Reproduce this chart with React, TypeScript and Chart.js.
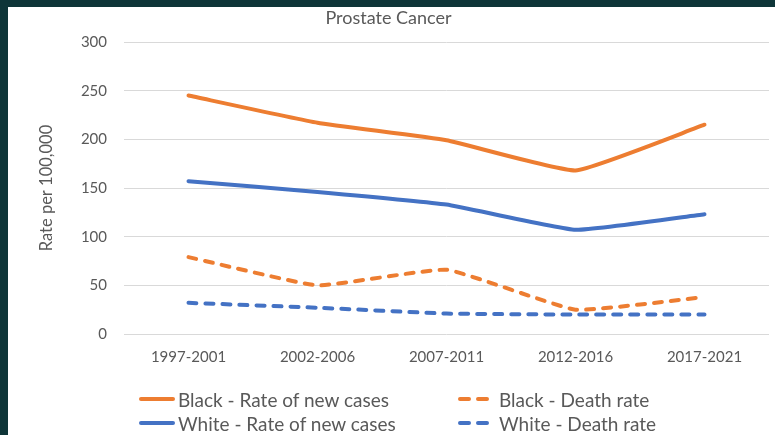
import React, { useEffect, useRef } from "react";
import { Chart, registerables } from "chart.js";

Chart.register(...registerables);

const categories = ["1997-2001", "2002-2006", "2007-2011", "2012-2016", "2017-2021"];
const blackNew = [245, 217, 199, 168, 215];
const blackDeath = [79, 50, 66, 25, 38];
const whiteNew = [157, 146, 133, 107, 123];
const whiteDeath = [32, 27, 21, 20, 20];
const seriesNames = [
  "Black - Rate of new cases",
  "Black - Death rate",
  "White - Rate of new cases",
  "White - Death rate",
];
const yMin = 0;
const yMax = 300;
const yStep = 50;

const ORANGE = "#ED7D31";
const BLUE = "#4472C4";
const TEXT = "#595959";
const FONT = "Lato";

export default function App() {
  const ref = useRef<HTMLCanvasElement | null>(null);

  useEffect(() => {
    if (!ref.current) return;
    const dash = [8, 9];
    const chart = new Chart(ref.current, {
      type: "line",
      data: {
        labels: categories,
        datasets: [
          { label: seriesNames[0], data: blackNew, borderColor: ORANGE, backgroundColor: ORANGE },
          { label: seriesNames[1], data: blackDeath, borderColor: ORANGE, backgroundColor: ORANGE, borderDash: dash },
          { label: seriesNames[2], data: whiteNew, borderColor: BLUE, backgroundColor: BLUE },
          { label: seriesNames[3], data: whiteDeath, borderColor: BLUE, backgroundColor: BLUE, borderDash: dash },
        ].map((d) => ({
          ...d,
          borderWidth: 4,
          pointRadius: 0,
          pointHoverRadius: 0,
          tension: 0.12,
          borderCapStyle: "round" as const,
          borderJoinStyle: "round" as const,
        })),
      },
      options: {
        responsive: false,
        animation: false,
        layout: { padding: { left: 0, right: 6, top: 0, bottom: 61 } },
        plugins: {
          legend: { display: false },
          tooltip: { enabled: false },
          title: {
            display: true,
            text: "Prostate Cancer",
            color: TEXT,
            font: { family: FONT, size: 18, weight: "normal" },
            padding: { top: 0, bottom: 13.4 },
          },
        },
        scales: {
          x: {
            type: "category",
            offset: true,
            grid: { display: false },
            border: { display: false },
            ticks: { color: TEXT, font: { family: FONT, size: 15 }, padding: 6, maxRotation: 0 },
            afterFit: (s: any) => {
              s.height = 40;
            },
          },
          y: {
            min: yMin,
            max: yMax,
            grid: { color: "#d9d9d9", lineWidth: 1, drawTicks: false },
            border: { display: false },
            ticks: { stepSize: yStep, color: TEXT, font: { family: FONT, size: 15 }, padding: 17 },
            title: {
              display: true,
              text: "Rate per 100,000",
              color: TEXT,
              font: { family: FONT, size: 16.5 },
              padding: { top: 29.2, bottom: 0 },
            },
            afterFit: (s: any) => {
              s.width = 116;
            },
          },
        },
      },
    });
    return () => chart.destroy();
  }, []);

  const legendItems = [
    { name: seriesNames[0], color: ORANGE, dashed: false, left: 131, top: 380 },
    { name: seriesNames[1], color: ORANGE, dashed: true, left: 450, top: 380 },
    { name: seriesNames[2], color: BLUE, dashed: false, left: 131, top: 404 },
    { name: seriesNames[3], color: BLUE, dashed: true, left: 450, top: 404 },
  ];

  return (
    <div style={{ position: "fixed", left: 0, top: 0, width: 775, height: 435, background: "#0e3538" }}>
      <div style={{ position: "absolute", left: 8, top: 7, width: 767, height: 428, background: "#ffffff" }}>
        <canvas ref={ref} width={767} height={428} style={{ width: 767, height: 428, display: "block" }} />
        {legendItems.map((it) => (
          <div
            key={it.name}
            style={{
              position: "absolute",
              left: it.left,
              top: it.top,
              height: 24,
              display: "flex",
              alignItems: "center",
              fontFamily: FONT,
              fontSize: 19,
              color: TEXT,
              whiteSpace: "nowrap",
            }}
          >
            <svg width={it.dashed ? 33 : 36} height={8} style={{ marginRight: it.dashed ? 8 : 3 }}>
              <line
                x1={2}
                y1={4}
                x2={it.dashed ? 31 : 34}
                y2={4}
                stroke={it.color}
                strokeWidth={4}
                strokeLinecap="round"
                strokeDasharray={it.dashed ? "9 9" : undefined}
              />
            </svg>
            <span>{it.name}</span>
          </div>
        ))}
      </div>
    </div>
  );
}
